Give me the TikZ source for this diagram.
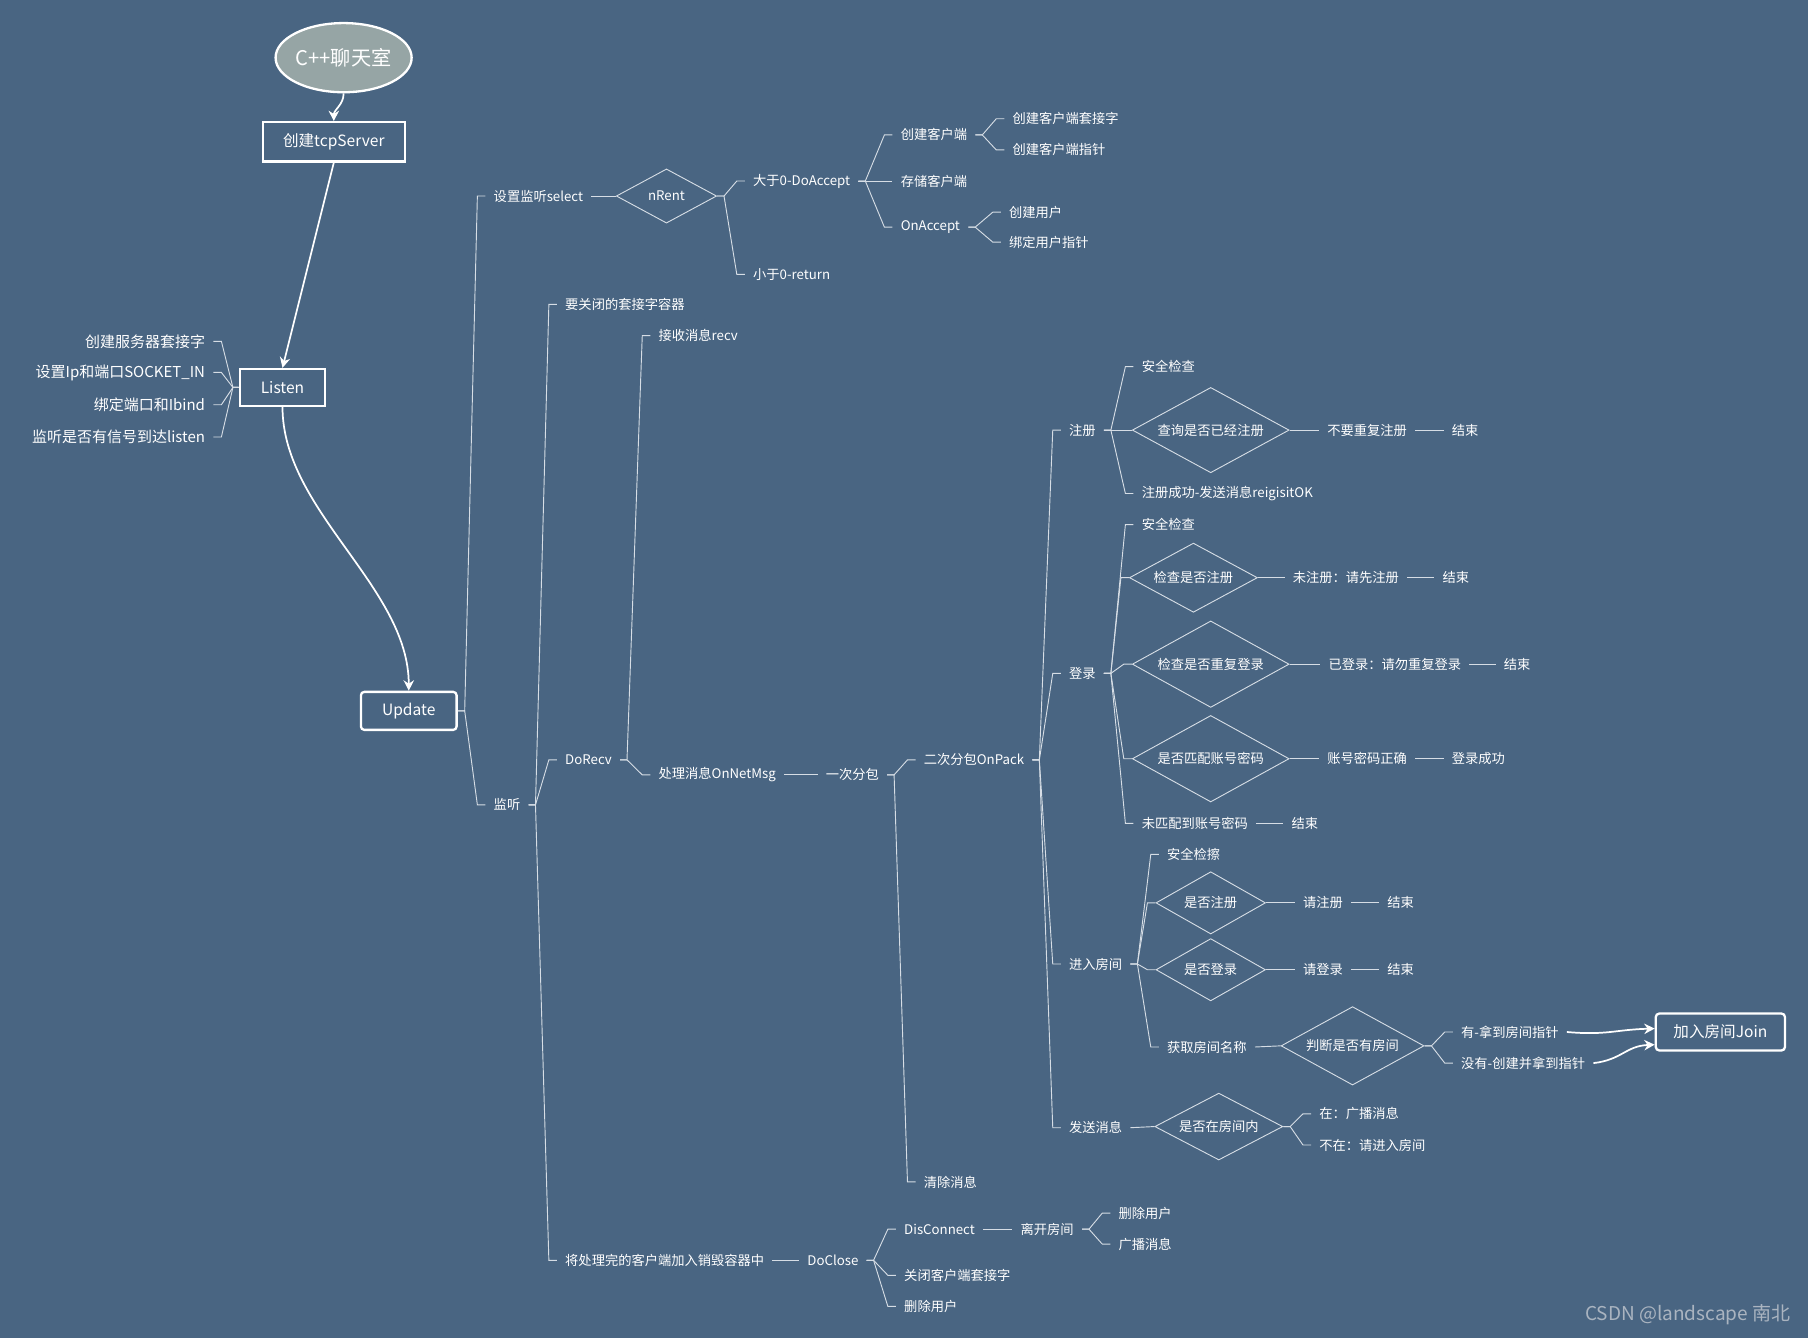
\documentclass[tikz,border=0pt]{standalone}
\usepackage{fontspec}
\setmainfont{Noto Sans CJK SC}
\usetikzlibrary{shapes.geometric,arrows.meta,calc}

\definecolor{bgc}{RGB}{73,101,130}
\definecolor{linkc}{RGB}{214,221,229}
\definecolor{ellc}{RGB}{150,165,165}
\definecolor{markc}{RGB}{170,180,192}
\newcommand{\mapfont}{\fontsize{11.5}{14}\selectfont}

\begin{document}
\begin{tikzpicture}[x=1pt, y=-1pt]
	% Node styles
	\tikzstyle{txt} = [anchor=west, xshift=-7pt, inner xsep=7pt, inner ysep=2pt, text=white, font=\mapfont]
	\tikzstyle{txtr} = [anchor=east, xshift=7pt, inner xsep=7pt, inner ysep=2pt, text=white, font=\fontsize{13}{15}\selectfont]
	\tikzstyle{box} = [draw=white, line width=2pt, text=white, font=\fontsize{13.5}{15}\selectfont]
	\tikzstyle{dia} = [diamond, aspect=2, draw=linkc, line width=0.8pt, inner sep=0pt, text=white, font=\mapfont]
	\tikzstyle{link} = [draw=linkc, line width=0.8pt]
	\tikzstyle{branch} = [to path={-- ++(6,0) -- ($(\tikztotarget)+(-7,0)$) -- (\tikztotarget)}]
	\tikzstyle{branchl} = [to path={-- ++(-5,0) -- ($(\tikztotarget)+(7,0)$) -- (\tikztotarget)}]
	\tikzstyle{arrow} = [draw=white, line width=1.5pt, -{Stealth[length=9pt,width=9pt]}]

	\useasboundingbox (0,0) rectangle (1568,1160);
	\fill[bgc] (0,0) rectangle (1568,1160);

	% Main flow
	\node[ellipse, draw=white, line width=2pt, fill=ellc, inner sep=0pt, minimum width=118pt, minimum height=60pt, text=white, font=\fontsize{17.5}{19}\selectfont] (chat) at (298,50) {C++聊天室};
	\node[box, minimum width=123pt, minimum height=34pt] (tcp) at (289.5,123) {创建tcpServer};
	\node[box, minimum width=74pt, minimum height=32pt] (listen) at (245,336) {Listen};
	\node[box, rounded corners=3pt, minimum width=83pt, minimum height=33pt] (update) at (354.5,616.5) {Update};

	\node[txtr] (mksock) at (178,296) {创建服务器套接字};
	\node[txtr] (setip) at (178,323) {设置Ip和端口SOCKET\_IN};
	\node[txtr] (bind) at (178,351) {绑定端口和Ibind};
	\node[txtr] (lsn) at (178,379) {监听是否有信号到达listen};

	% Select branch
	\node[txt] (select) at (428,170) {设置监听select};
	\node[dia, minimum width=87pt, minimum height=47pt] (nrent) at (578,170) {nRent};
	\node[txt] (gt) at (653,157) {大于0-DoAccept};
	\node[txt] (lt) at (653,238) {小于0-return};
	\node[txt] (mkcli) at (781,117) {创建客户端};
	\node[txt] (store) at (781,157) {存储客户端};
	\node[txt] (onacc) at (781,197) {OnAccept};
	\node[txt] (clisock) at (878,103) {创建客户端套接字};
	\node[txt] (cliptr) at (878,130) {创建客户端指针};
	\node[txt] (mkuser) at (875,184) {创建用户};
	\node[txt] (userptr) at (875,210) {绑定用户指针};

	% Monitor branch
	\node[txt] (monitor) at (428,698) {监听};
	\node[txt] (closevec) at (490,264) {要关闭的套接字容器};
	\node[txt] (dorecv) at (490,659) {DoRecv};
	\node[txt] (todel) at (490,1093) {将处理完的客户端加入销毁容器中};
	\node[txt] (recv) at (571,291) {接收消息recv};
	\node[txt] (onmsg) at (571,672) {处理消息OnNetMsg};
	\node[txt] (pack1) at (716,672) {一次分包};
	\node[txt] (pack2) at (801,659) {二次分包OnPack};
	\node[txt] (clear) at (801,1025) {清除消息};

	\node[txt] (reg) at (927,373) {注册};
	\node[txt] (login) at (927,584) {登录};
	\node[txt] (enter) at (927,836) {进入房间};
	\node[txt] (send) at (927,978) {发送消息};

	% Register
	\node[txt] (regchk) at (990,318) {安全检查};
	\node[dia, minimum width=136pt, minimum height=74pt] (regq) at (1050,373) {查询是否已经注册};
	\node[txt] (regok) at (990,428) {注册成功-发送消息reigisitOK};
	\node[txt] (regdup) at (1151,373) {不要重复注册};
	\node[txt] (regend) at (1259,373) {结束};

	% Login
	\node[txt] (logchk) at (990,455) {安全检查};
	\node[dia, minimum width=111pt, minimum height=60pt] (logq1) at (1035,501) {检查是否注册};
	\node[txt] (lognoreg) at (1121,501) {未注册：请先注册};
	\node[txt] (logend1) at (1251,501) {结束};
	\node[dia, minimum width=136pt, minimum height=75pt] (logq2) at (1050,576) {检查是否重复登录};
	\node[txt] (logdup) at (1152,576) {已登录：请勿重复登录};
	\node[txt] (logend2) at (1304,576) {结束};
	\node[dia, minimum width=136pt, minimum height=75pt] (logq3) at (1050,658) {是否匹配账号密码};
	\node[txt] (logpw) at (1151,658) {账号密码正确};
	\node[txt] (logok) at (1259,658) {登录成功};
	\node[txt] (lognomatch) at (990,714) {未匹配到账号密码};
	\node[txt] (logend3) at (1120,714) {结束};

	% Enter room
	\node[txt] (roomchk) at (1012,741) {安全检擦};
	\node[dia, minimum width=95pt, minimum height=54pt] (roomq1) at (1050,783) {是否注册};
	\node[txt] (roomreg) at (1130,783) {请注册};
	\node[txt] (roomend1) at (1203,783) {结束};
	\node[dia, minimum width=95pt, minimum height=54pt] (roomq2) at (1050,841) {是否登录};
	\node[txt] (roomlog) at (1130,841) {请登录};
	\node[txt] (roomend2) at (1203,841) {结束};
	\node[txt] (roomname) at (1012,908) {获取房间名称};
	\node[dia, minimum width=124pt, minimum height=68pt] (roomq3) at (1173,907) {判断是否有房间};
	\node[txt] (roomhave) at (1267,895) {有-拿到房间指针};
	\node[txt] (roomnew) at (1267,922) {没有-创建并拿到指针};
	\node[box, rounded corners=3pt, minimum width=112pt, minimum height=32pt] (join) at (1492,895) {加入房间Join};

	% Send message
	\node[dia, minimum width=111pt, minimum height=58pt] (sendq) at (1057,977) {是否在房间内};
	\node[txt] (sendin) at (1144,966) {在：广播消息};
	\node[txt] (sendout) at (1144,993) {不在：请进入房间};

	% Close
	\node[txt] (doclose) at (700,1093) {DoClose};
	\node[txt] (discon) at (784,1066) {DisConnect};
	\node[txt] (closesock) at (784,1106) {关闭客户端套接字};
	\node[txt] (deluser) at (784,1133) {删除用户};
	\node[txt] (leave) at (885,1066) {离开房间};
	\node[txt] (leavedel) at (970,1052) {删除用户};
	\node[txt] (leavebc) at (970,1079) {广播消息};

	\node[anchor=east, inner sep=0pt, text=markc, font=\fontsize{16.5}{18}\selectfont] (mark) at (1553,1140) {CSDN @landscape 南北};

	% Arrows
	\draw[arrow] (chat.south) to[out=-90, in=90] (tcp.north);
	\draw[arrow] (tcp.south) -- (listen.north);
	\draw[arrow] (listen.south) .. controls +(0,90) and +(0,-90) .. (update.north);
	\draw[arrow] (roomhave.east) .. controls +(35,3) and +(-35,1) .. ([yshift=3pt]join.west);
	\draw[arrow] (roomnew.east) .. controls +(25,-3) and +(-25,1) .. ([yshift=-11pt]join.west);

	% Branches
	\foreach \n in {mksock,setip,bind,lsn} \draw[link] (listen.west) to[branchl] (\n.east);
	\foreach \n in {select,monitor} \draw[link] (update.east) to[branch] (\n.west);
	\draw[link] (select.east) -- (nrent.west);
	\foreach \n in {gt,lt} \draw[link] (nrent.east) to[branch] (\n.west);
	\foreach \n in {mkcli,store,onacc} \draw[link] (gt.east) to[branch] (\n.west);
	\foreach \n in {clisock,cliptr} \draw[link] (mkcli.east) to[branch] (\n.west);
	\foreach \n in {mkuser,userptr} \draw[link] (onacc.east) to[branch] (\n.west);

	\foreach \n in {closevec,dorecv,todel} \draw[link] (monitor.east) to[branch] (\n.west);
	\foreach \n in {recv,onmsg} \draw[link] (dorecv.east) to[branch] (\n.west);
	\draw[link] (onmsg.east) -- (pack1.west);
	\foreach \n in {pack2,clear} \draw[link] (pack1.east) to[branch] (\n.west);
	\foreach \n in {reg,login,enter,send} \draw[link] (pack2.east) to[branch] (\n.west);

	\foreach \n in {regchk,regq,regok} \draw[link] (reg.east) to[branch] (\n.west);
	\draw[link] (regq.east) -- (regdup.west);
	\draw[link] (regdup.east) -- (regend.west);

	\foreach \n in {logchk,logq1,logq2,logq3,lognomatch} \draw[link] (login.east) to[branch] (\n.west);
	\draw[link] (logq1.east) -- (lognoreg.west);
	\draw[link] (lognoreg.east) -- (logend1.west);
	\draw[link] (logq2.east) -- (logdup.west);
	\draw[link] (logdup.east) -- (logend2.west);
	\draw[link] (logq3.east) -- (logpw.west);
	\draw[link] (logpw.east) -- (logok.west);
	\draw[link] (lognomatch.east) -- (logend3.west);

	\foreach \n in {roomchk,roomq1,roomq2,roomname} \draw[link] (enter.east) to[branch] (\n.west);
	\draw[link] (roomq1.east) -- (roomreg.west);
	\draw[link] (roomreg.east) -- (roomend1.west);
	\draw[link] (roomq2.east) -- (roomlog.west);
	\draw[link] (roomlog.east) -- (roomend2.west);
	\draw[link] (roomname.east) -- (roomq3.west);
	\foreach \n in {roomhave,roomnew} \draw[link] (roomq3.east) to[branch] (\n.west);

	\draw[link] (send.east) -- (sendq.west);
	\foreach \n in {sendin,sendout} \draw[link] (sendq.east) to[branch] (\n.west);

	\draw[link] (todel.east) -- (doclose.west);
	\foreach \n in {discon,closesock,deluser} \draw[link] (doclose.east) to[branch] (\n.west);
	\draw[link] (discon.east) -- (leave.west);
	\foreach \n in {leavedel,leavebc} \draw[link] (leave.east) to[branch] (\n.west);
\end{tikzpicture}
\end{document}
